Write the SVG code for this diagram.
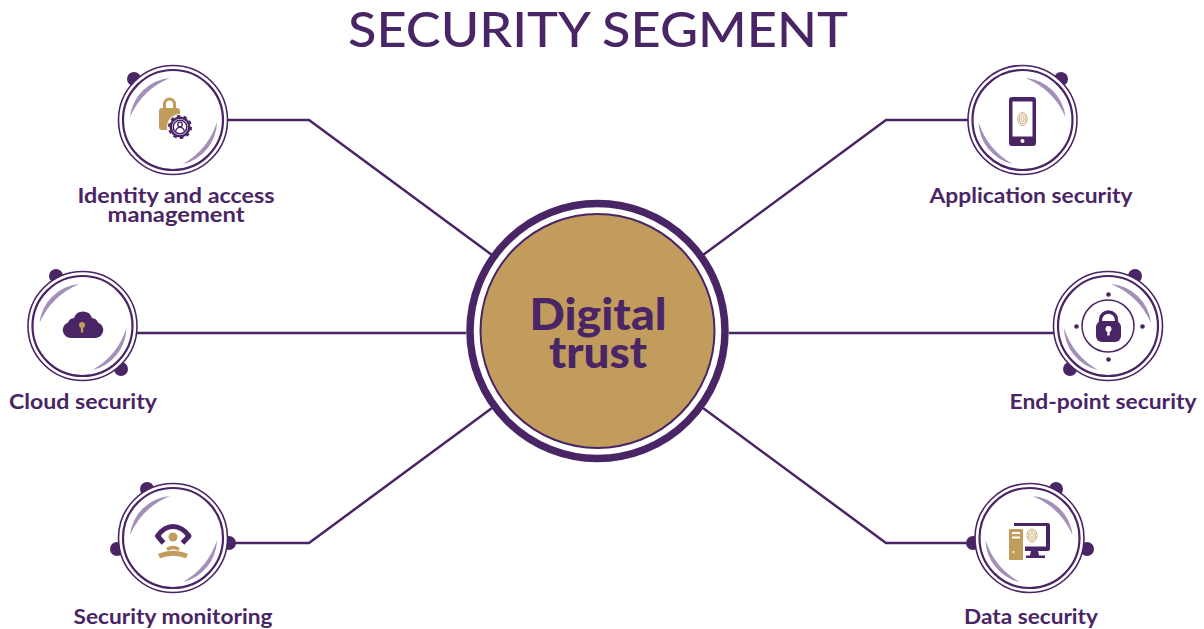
<svg xmlns="http://www.w3.org/2000/svg" width="1204" height="629" viewBox="0 0 1204 629">
<style>
.t{font-family:"Lato","Liberation Sans",sans-serif;fill:#4a2566}
.l{font-size:21px;font-weight:700;text-anchor:middle}
.c{fill:none;stroke:#4a2566;stroke-width:2.5}
.p{fill:#4a2566}.g{fill:#c29c5d}.w{fill:#fff}
.s{fill:none;stroke:#4a2566}
.f{fill:none;stroke:#c29c5d;stroke-width:.8}
</style>
<defs>
<g id="ringL"><circle r="54.5" fill="#fff" stroke="#4a2566" stroke-width="1.6"/><circle r="50" fill="none" stroke="#4a2566" stroke-width="2.2"/>
<path d="M-43-3A44 44 0 0 1-3-42A75 75 0 0 0-43-3ZM44 2A44 44 0 0 1 10 44A75 75 0 0 0 44 2Z" fill="#a48fb8"/></g>
<g id="ringR"><circle r="54.5" fill="#fff" stroke="#4a2566" stroke-width="1.6"/><circle r="50" fill="none" stroke="#4a2566" stroke-width="2.2"/>
<path d="M43-3A44 44 0 0 0 3-42A75 75 0 0 1 43-3ZM-44 2A44 44 0 0 0-10 44A75 75 0 0 1-44 2Z" fill="#a48fb8"/></g>
</defs>
<text id="title" class="t" x="598" y="47" font-size="49" font-weight="500" text-anchor="middle" textLength="500" lengthAdjust="spacingAndGlyphs">SECURITY SEGMENT</text>
<g id="connectors" class="c">
<path d="M228 120H309L492 255"/>
<path d="M136 333H466"/>
<path d="M232 543H309L492 408"/>
<path d="M968 120H886L703 255"/>
<path d="M729 333H1054"/>
<path d="M975 543H886L703 408"/>
</g>
<g id="center">
<circle cx="597.500" cy="331" r="127.500" fill="#fff" stroke="#4a2566" stroke-width="7.500"/>
<circle cx="597.500" cy="331" r="117" fill="#c29c5d" stroke="#4a2566" stroke-width="2"/>
<text class="t" x="598" y="330" font-size="43" font-weight="900" text-anchor="middle" textLength="137" lengthAdjust="spacingAndGlyphs">Digital</text>
<text class="t" x="598" y="368" font-size="43" font-weight="900" text-anchor="middle" textLength="98" lengthAdjust="spacingAndGlyphs">trust</text>
</g>
<g id="node-identity">
<circle class="p" cx="134" cy="79" r="7"/>
<use href="#ringL" x="173" y="120"/>
<path d="M164.500 108V104A5 5 0 0 1 174.500 104V108" fill="none" stroke="#c29c5d" stroke-width="3"/>
<rect class="g" x="159" y="108" width="21" height="22" rx="3"/>
<circle class="w" cx="180" cy="127" r="13"/>
<circle cx="180" cy="127" r="10.500" class="p"/>
<circle cx="180" cy="127" r="11" fill="none" stroke="#4a2566" stroke-width="2" stroke-dasharray="3.500 3.400"/>
<circle class="w" cx="180" cy="127" r="8"/>
<circle cx="180" cy="127" r="6.800" fill="none" stroke="#4a2566" stroke-width="1.500"/>
<circle cx="180" cy="124.500" r="2.300" fill="none" stroke="#4a2566" stroke-width="1.300"/>
<path class="s" d="M175.800 131.500A4.200 4.200 0 0 1 184.200 131.500" stroke-width="1.300"/>
<text class="t l" x="176" y="203" textLength="197" lengthAdjust="spacingAndGlyphs">Identity and access</text>
<text class="t l" x="176" y="222" textLength="137" lengthAdjust="spacingAndGlyphs">management</text>
</g>
<g id="node-cloud">
<circle class="p" cx="56" cy="276" r="7"/><circle class="p" cx="121" cy="369" r="7"/>
<use href="#ringL" x="82.500" y="326"/>
<path class="p" d="M71 338A8 8 0 0 1 68 322.500A7 7 0 0 1 74 318A9.500 9.500 0 0 1 92 318A7 7 0 0 1 98 322.500A8 8 0 0 1 95 338Z"/>
<circle class="g" cx="82" cy="325" r="3"/><rect class="g" x="80.800" y="326" width="2.400" height="6.500"/>
<text class="t l" x="83" y="409" textLength="148" lengthAdjust="spacingAndGlyphs">Cloud security</text>
</g>
<g id="node-monitoring">
<circle class="p" cx="147" cy="489" r="7"/><circle class="p" cx="117" cy="549" r="7"/><circle class="p" cx="229" cy="543" r="7"/>
<use href="#ringL" x="173" y="538"/>
<path class="s" d="M163.500 543L157.500 536Q164 526.500 173 526.500Q182 526.500 189 536L182.500 543" stroke-width="5" stroke-linejoin="round"/>
<circle class="g" cx="173" cy="537" r="4.500"/>
<path d="M167 549.500Q173 545.500 179 549.500" fill="none" stroke="#c29c5d" stroke-width="3.500"/>
<path d="M159 556Q173 550.500 187 556" fill="none" stroke="#c29c5d" stroke-width="5"/>
<text class="t l" x="173" y="624" textLength="199" lengthAdjust="spacingAndGlyphs">Security monitoring</text>
</g>
<g id="node-application">
<circle class="p" cx="1061" cy="79" r="7"/>
<use href="#ringR" x="1022.500" y="120"/>
<rect class="p" x="1009" y="97" width="27" height="49" rx="3"/>
<rect class="w" x="1012.500" y="101.500" width="20" height="35"/>
<circle class="w" cx="1022.500" cy="141" r="2"/>
<ellipse class="f" cx="1022.500" cy="119" rx="4.800" ry="6.500"/><ellipse class="f" cx="1022.500" cy="119" rx="3.200" ry="4.800"/><ellipse class="f" cx="1022.500" cy="119" rx="1.500" ry="3"/>
<text class="t l" x="1031" y="203" textLength="203" lengthAdjust="spacingAndGlyphs">Application security</text>
</g>
<g id="node-endpoint">
<circle class="p" cx="1135" cy="276" r="7"/><circle class="p" cx="1070" cy="369" r="7"/>
<use href="#ringR" x="1108" y="326"/>
<circle cx="1108" cy="326" r="26" fill="none" stroke="#4a2566" stroke-width="1.500"/>
<circle class="p" cx="1108.500" cy="294.500" r="2.300"/><circle class="p" cx="1108.500" cy="359.500" r="2.300"/><circle class="p" cx="1076.500" cy="326.500" r="2.300"/><circle class="p" cx="1142.500" cy="326.500" r="2.300"/>
<path class="s" d="M1100.500 323V320A8 8 0 0 1 1116.500 320V323" stroke-width="3.500"/>
<rect class="p" x="1096" y="321" width="25" height="21" rx="6"/>
<circle class="w" cx="1108.500" cy="329" r="3"/><rect class="w" x="1107.300" y="330" width="2.400" height="5.500"/>
<text class="t l" x="1103" y="409" textLength="187" lengthAdjust="spacingAndGlyphs">End-point security</text>
</g>
<g id="node-data">
<circle class="p" cx="1056" cy="489" r="7"/><circle class="p" cx="1087" cy="549" r="7"/><circle class="p" cx="973" cy="543" r="7"/>
<use href="#ringR" x="1029.500" y="538"/>
<path class="p" d="M1014 523H1048A2 2 0 0 1 1050 525V549A2 2 0 0 1 1048 551H1025V546.500H1046V526H1014Z"/>
<path class="p" d="M1031 551H1038L1039 555.500H1045V558H1026V555.500H1030Z"/>
<rect class="g" x="1009" y="529" width="14" height="31" rx="1"/>
<rect class="w" x="1012" y="532" width="8" height="2"/><rect class="w" x="1012" y="536.500" width="8" height="2"/><circle class="w" cx="1013.500" cy="552" r="1"/>
<ellipse class="f" cx="1032" cy="535.500" rx="5" ry="6.500"/><ellipse class="f" cx="1032" cy="535.500" rx="3.300" ry="4.800"/><ellipse class="f" cx="1032" cy="535.500" rx="1.500" ry="3"/>
<text class="t l" x="1031" y="624" textLength="134" lengthAdjust="spacingAndGlyphs">Data security</text>
</g>
</svg>
